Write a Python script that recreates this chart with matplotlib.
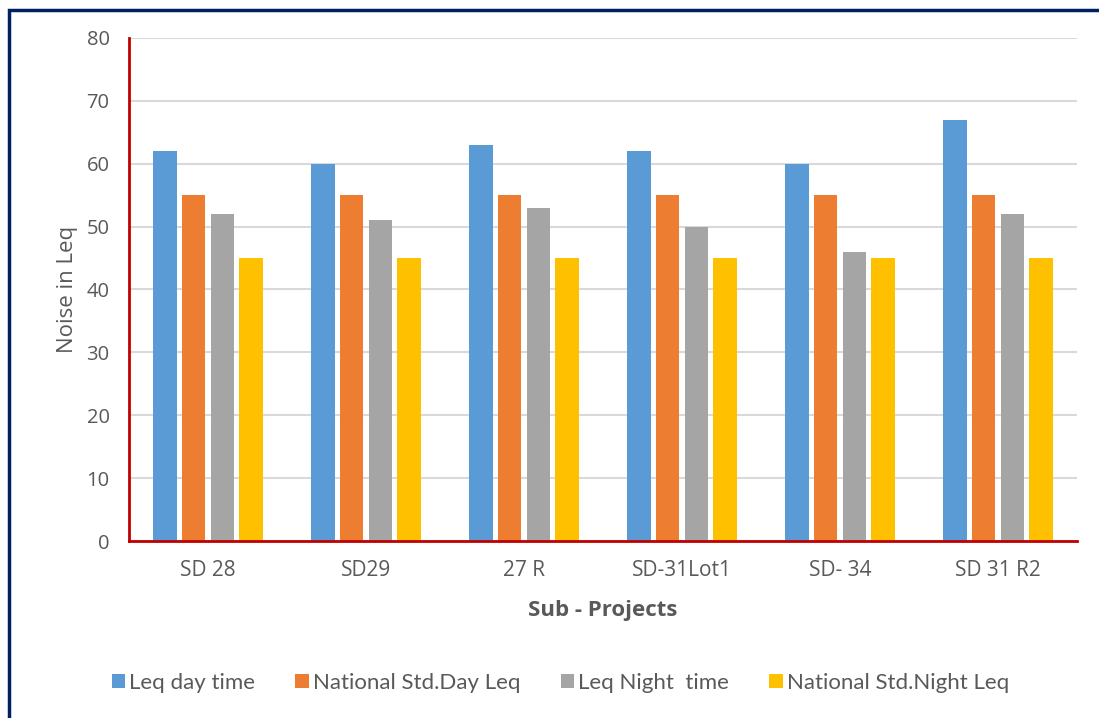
import matplotlib.pyplot as plt
import numpy as np
from matplotlib.patches import Rectangle

projects = ['SD 28', 'SD29', '27 R', 'SD-31Lot1', 'SD- 34', 'SD 31 R2']
leq_day = [62, 60, 63, 62, 60, 67]
std_day = [55, 55, 55, 55, 55, 55]
leq_night = [52, 51, 53, 50, 46, 52]
std_night = [45, 45, 45, 45, 45, 45]

series = [
    ('Leq day time', leq_day, '#5b9bd5'),
    ('National Std.Day Leq', std_day, '#ed7d31'),
    ('Leq Night  time', leq_night, '#a5a5a5'),
    ('National Std.Night Leq', std_night, '#ffc000'),
]

plt.rcParams['font.family'] = ['Open Sans', 'DejaVu Sans']
txt = '#595959'

fig = plt.figure(figsize=(10.99, 7.18), dpi=100)
ax = fig.add_axes([0.1174, 0.2465, 0.8626, 0.7006])

x = np.arange(len(projects))
pitch = 0.182
width = 0.148
for i, (name, vals, col) in enumerate(series):
    ax.bar(x + (i - 1.5) * pitch, vals, width, color=col, label=name, zorder=3)

ax.set_xlim(-0.5, len(projects) - 0.5)
ax.set_ylim(0, 80)
ax.set_yticks(range(0, 81, 10))
ax.set_xticks(x)
ax.set_xticklabels(projects)
ax.tick_params(axis='y', length=0, pad=14, labelsize=14.5, labelcolor=txt)
ax.tick_params(axis='x', length=0, pad=14, labelsize=15, labelcolor=txt)
ax.grid(axis='y', color='#d9d9d9', linewidth=1.5, zorder=0)

for s in ['top', 'right']:
    ax.spines[s].set_visible(False)
for s in ['left', 'bottom']:
    ax.spines[s].set_color('#c00000')
    ax.spines[s].set_linewidth(2)
    ax.spines[s].set_zorder(4)

ax.set_ylabel('Noise in Leq', fontsize=16, color=txt, labelpad=6)
ax.set_xlabel('Sub - Projects', fontsize=16, color=txt, fontweight='bold', labelpad=13)

fig.legend(loc='center', bbox_to_anchor=(0.51, 0.049), ncol=4, frameon=False,
           prop={'family': 'Lato', 'size': 16}, labelcolor=txt,
           handlelength=0.6, handleheight=0.6,
           handletextpad=0.2, columnspacing=1.8)

# dark frame round the chart area
fig.patches.append(Rectangle((8.5 / 1099, -0.1), 1.2, 1 - 10.5 / 718 + 0.1,
                             transform=fig.transFigure, fill=False,
                             edgecolor='#002060', linewidth=2.5))

fig.savefig('out.png', dpi=100)
